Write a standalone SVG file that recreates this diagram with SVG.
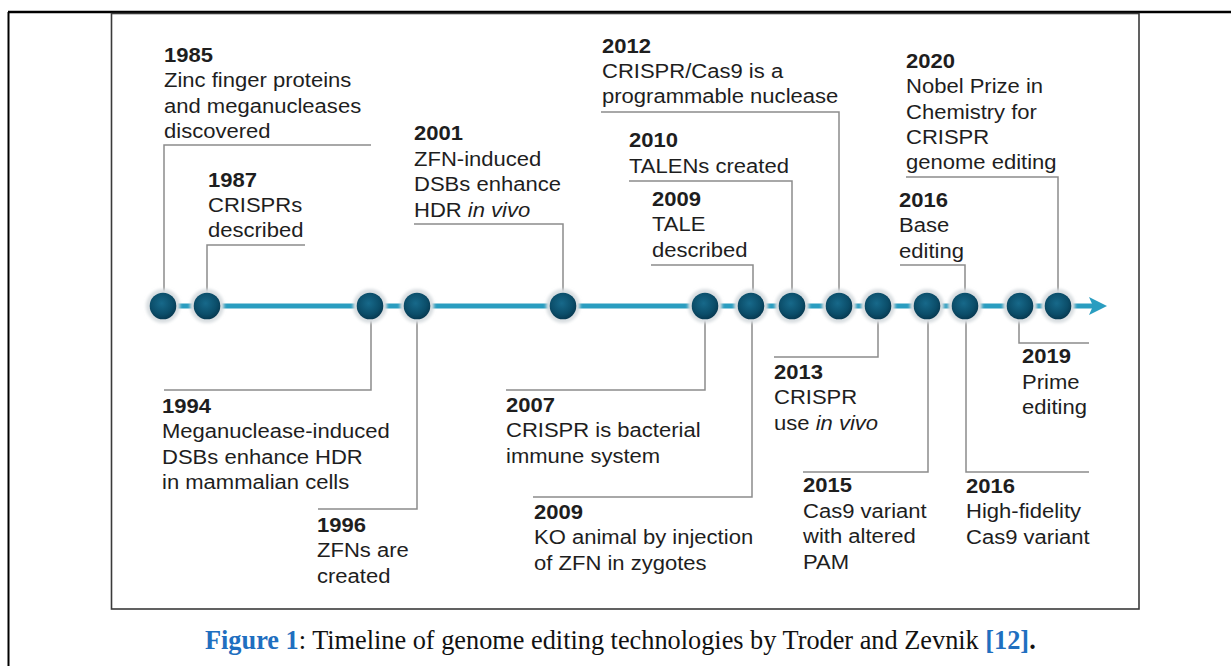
<svg xmlns="http://www.w3.org/2000/svg" width="1231" height="666" viewBox="0 0 1231 666">
  <defs>
    <radialGradient id="bead" cx="45%" cy="40%" r="60%">
      <stop offset="0" stop-color="#17698a"/>
      <stop offset="0.7" stop-color="#0b4d69"/>
      <stop offset="1" stop-color="#073a52"/>
    </radialGradient>
    <filter id="soft" x="-50%" y="-50%" width="200%" height="200%">
      <feGaussianBlur stdDeviation="1.6"/>
    </filter>
    <style>
      .lbl { font-family: "Liberation Sans", Arial, sans-serif; font-size: 19.5px; fill: #1e1e1e; }
      .yr { font-weight: bold; }
      .lead { fill: none; stroke: #8c8c8c; stroke-width: 1.5; }
      .halo { fill: #d9dee1; filter: url(#soft); }
      .bead { fill: url(#bead); }
      .cap { font-family: "Liberation Serif", "Times New Roman", serif; font-size: 26.3px; fill: #111; }
      .blue { fill: #1f6fc0; font-weight: bold; }
    </style>
  </defs>

  <!-- page frame -->
  <rect x="0" y="0" width="1231" height="666" fill="#ffffff"/>
  <line x1="8" y1="12" x2="1231" y2="12" stroke="#000" stroke-width="2.5"/>
  <line x1="8.5" y1="12" x2="8.5" y2="666" stroke="#000" stroke-width="2"/>
  <rect x="111.5" y="13.5" width="1027.5" height="595.5" fill="none" stroke="#3a3a3a" stroke-width="1.6"/>

  <!-- leader lines -->
  <g id="connectors">
    <path class="lead" d="M164,292 V145 H371"/>
    <path class="lead" d="M207,292 V245 H305"/>
    <path class="lead" d="M563,292 V224 H414"/>
    <path class="lead" d="M839,292 V112 H601"/>
    <path class="lead" d="M792,292 V181 H629"/>
    <path class="lead" d="M753,292 V265 H651"/>
    <path class="lead" d="M1058,292 V177 H906"/>
    <path class="lead" d="M965,292 V265 H900"/>
    <path class="lead" d="M371,320 V390 H164"/>
    <path class="lead" d="M417,320 V509 H318"/>
    <path class="lead" d="M705,320 V390 H506"/>
    <path class="lead" d="M752,320 V497 H533"/>
    <path class="lead" d="M878,320 V357 H774"/>
    <path class="lead" d="M928,320 V472 H803"/>
    <path class="lead" d="M966,320 V472 H1089"/>
    <path class="lead" d="M1019,320 V343 H1089"/>
  </g>

  <!-- time axis with beads -->
  <g id="axis">
    <line x1="163" y1="306" x2="1094" y2="306" stroke="#2a9dc0" stroke-width="5"/>
    <polygon points="1089,297 1107,306 1089,315 1093,306" fill="#2a9dc0"/>
    <g id="beads">
      <circle class="halo" cx="163" cy="306" r="17"/><circle class="bead" cx="163" cy="306" r="13.3"/>
      <circle class="halo" cx="207" cy="306" r="17"/><circle class="bead" cx="207" cy="306" r="13.3"/>
      <circle class="halo" cx="370" cy="306" r="17"/><circle class="bead" cx="370" cy="306" r="13.3"/>
      <circle class="halo" cx="417" cy="306" r="17"/><circle class="bead" cx="417" cy="306" r="13.3"/>
      <circle class="halo" cx="563" cy="306" r="17"/><circle class="bead" cx="563" cy="306" r="13.3"/>
      <circle class="halo" cx="705" cy="306" r="17"/><circle class="bead" cx="705" cy="306" r="13.3"/>
      <circle class="halo" cx="751" cy="306" r="17"/><circle class="bead" cx="751" cy="306" r="13.3"/>
      <circle class="halo" cx="792" cy="306" r="17"/><circle class="bead" cx="792" cy="306" r="13.3"/>
      <circle class="halo" cx="839" cy="306" r="17"/><circle class="bead" cx="839" cy="306" r="13.3"/>
      <circle class="halo" cx="878" cy="306" r="17"/><circle class="bead" cx="878" cy="306" r="13.3"/>
      <circle class="halo" cx="927" cy="306" r="17"/><circle class="bead" cx="927" cy="306" r="13.3"/>
      <circle class="halo" cx="965" cy="306" r="17"/><circle class="bead" cx="965" cy="306" r="13.3"/>
      <circle class="halo" cx="1020" cy="306" r="17"/><circle class="bead" cx="1020" cy="306" r="13.3"/>
      <circle class="halo" cx="1058" cy="306" r="17"/><circle class="bead" cx="1058" cy="306" r="13.3"/>
    </g>
  </g>

  <!-- milestone labels (type is set a little wide, hence the x-stretch) -->
  <g id="m1985" transform="translate(164,62) scale(1.13,1)">
    <text class="lbl"><tspan class="yr" x="0">1985</tspan><tspan x="0" dy="25.5">Zinc finger proteins</tspan><tspan x="0" dy="25.5">and meganucleases</tspan><tspan x="0" dy="25.5">discovered</tspan></text>
  </g>
  <g id="m1987" transform="translate(208,187) scale(1.13,1)">
    <text class="lbl"><tspan class="yr" x="0">1987</tspan><tspan x="0" dy="25">CRISPRs</tspan><tspan x="0" dy="25">described</tspan></text>
  </g>
  <g id="m1994" transform="translate(162,413) scale(1.13,1)">
    <text class="lbl"><tspan class="yr" x="0">1994</tspan><tspan x="0" dy="25.5">Meganuclease-induced</tspan><tspan x="0" dy="25.5">DSBs enhance HDR</tspan><tspan x="0" dy="25.5">in mammalian cells</tspan></text>
  </g>
  <g id="m1996" transform="translate(317,532) scale(1.13,1)">
    <text class="lbl"><tspan class="yr" x="0">1996</tspan><tspan x="0" dy="25.5">ZFNs are</tspan><tspan x="0" dy="25.5">created</tspan></text>
  </g>
  <g id="m2001" transform="translate(414,140) scale(1.13,1)">
    <text class="lbl"><tspan class="yr" x="0">2001</tspan><tspan x="0" dy="25.7">ZFN-induced</tspan><tspan x="0" dy="25.7">DSBs enhance</tspan><tspan x="0" dy="25.7">HDR <tspan font-style="italic">in vivo</tspan></tspan></text>
  </g>
  <g id="m2007" transform="translate(506,412) scale(1.13,1)">
    <text class="lbl"><tspan class="yr" x="0">2007</tspan><tspan x="0" dy="25.5">CRISPR is bacterial</tspan><tspan x="0" dy="25.5">immune system</tspan></text>
  </g>
  <g id="m2009-tale" transform="translate(652,206) scale(1.13,1)">
    <text class="lbl"><tspan class="yr" x="0">2009</tspan><tspan x="0" dy="25.5">TALE</tspan><tspan x="0" dy="25.5">described</tspan></text>
  </g>
  <g id="m2009-ko" transform="translate(534,519) scale(1.13,1)">
    <text class="lbl"><tspan class="yr" x="0">2009</tspan><tspan x="0" dy="25.5">KO animal by injection</tspan><tspan x="0" dy="25.5">of ZFN in zygotes</tspan></text>
  </g>
  <g id="m2010" transform="translate(629,147) scale(1.13,1)">
    <text class="lbl"><tspan class="yr" x="0">2010</tspan><tspan x="0" dy="26">TALENs created</tspan></text>
  </g>
  <g id="m2012" transform="translate(602,53) scale(1.13,1)">
    <text class="lbl"><tspan class="yr" x="0">2012</tspan><tspan x="0" dy="25.5">CRISPR/Cas9 is a</tspan><tspan x="0" dy="25">programmable nuclease</tspan></text>
  </g>
  <g id="m2013" transform="translate(774,379) scale(1.13,1)">
    <text class="lbl"><tspan class="yr" x="0">2013</tspan><tspan x="0" dy="25.5">CRISPR</tspan><tspan x="0" dy="25.5">use <tspan font-style="italic">in vivo</tspan></tspan></text>
  </g>
  <g id="m2015" transform="translate(803,492) scale(1.13,1)">
    <text class="lbl"><tspan class="yr" x="0">2015</tspan><tspan x="0" dy="25.7">Cas9 variant</tspan><tspan x="0" dy="25.7">with altered</tspan><tspan x="0" dy="25.7">PAM</tspan></text>
  </g>
  <g id="m2016-base" transform="translate(899,207) scale(1.13,1)">
    <text class="lbl"><tspan class="yr" x="0">2016</tspan><tspan x="0" dy="25.5">Base</tspan><tspan x="0" dy="25.5">editing</tspan></text>
  </g>
  <g id="m2016-hifi" transform="translate(966,493) scale(1.13,1)">
    <text class="lbl"><tspan class="yr" x="0">2016</tspan><tspan x="0" dy="25.5">High-fidelity</tspan><tspan x="0" dy="25.5">Cas9 variant</tspan></text>
  </g>
  <g id="m2019" transform="translate(1022,363) scale(1.13,1)">
    <text class="lbl"><tspan class="yr" x="0">2019</tspan><tspan x="0" dy="26">Prime</tspan><tspan x="0" dy="25.5">editing</tspan></text>
  </g>
  <g id="m2020" transform="translate(906,68) scale(1.13,1)">
    <text class="lbl"><tspan class="yr" x="0">2020</tspan><tspan x="0" dy="25.3">Nobel Prize in</tspan><tspan x="0" dy="25.3">Chemistry for</tspan><tspan x="0" dy="25.3">CRISPR</tspan><tspan x="0" dy="25.3">genome editing</tspan></text>
  </g>

  <!-- caption -->
  <text class="cap" x="205" y="649"><tspan class="blue">Figure 1</tspan>: Timeline of genome editing technologies by Troder and Zevnik <tspan class="blue">[12]</tspan><tspan font-weight="bold">.</tspan></text>
</svg>
